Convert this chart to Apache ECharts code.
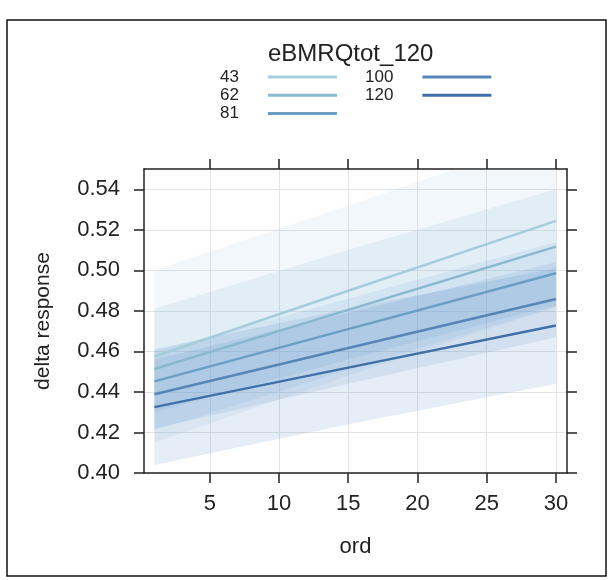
<!DOCTYPE html>
<html>
<head>
<meta charset="utf-8">
<script src="https://cdn.jsdelivr.net/npm/echarts@6/dist/echarts.min.js"></script>
<style>
	html, body { margin: 0; padding: 0; background: #fff; }
	#chart { width: 614px; height: 580px; }
</style>
</head>
<body>
<div id="chart"></div>
<script>
// values at ord = 1, 15, 30
var ordX = [1, 15, 30];
var levels = ['43', '62', '81', '100', '120'];

var fit43 = [0.4575, 0.4899, 0.5244];
var fit62 = [0.4513, 0.4805, 0.5117];
var fit81 = [0.4452, 0.4710, 0.4986];
var fit100 = [0.4389, 0.4617, 0.4859];
var fit120 = [0.4325, 0.4520, 0.4728];

var lo43 = [0.415, 0.448, 0.482];
var hi43 = [0.500, 0.532, 0.567];
var lo62 = [0.421, 0.451, 0.482];
var hi62 = [0.481, 0.510, 0.540];
var lo81 = [0.430, 0.456, 0.483];
var hi81 = [0.460, 0.486, 0.514];
var lo100 = [0.422, 0.444, 0.467];
var hi100 = [0.456, 0.479, 0.504];
var lo120 = [0.404, 0.424, 0.444];
var hi120 = [0.461, 0.481, 0.501];

var xTicks = [5, 10, 15, 20, 25, 30];
var yTicks = [0.40, 0.42, 0.44, 0.46, 0.48, 0.50, 0.52, 0.54];

var colors = ['#a6cddb', '#88b9cf', '#6a9fc4', '#5686b8', '#4070a9'];
var bandColors = ['#9cc8e0', '#88b8dc', '#6fa3d2', '#5a8fc8', '#4a7cbc'];
var fits = [fit43, fit62, fit81, fit100, fit120];
var los = [lo43, lo62, lo81, lo100, lo120];
var his = [hi43, hi62, hi81, hi100, hi120];

var font = 'Liberation Sans, Arial, sans-serif';

function hexAlpha(hex, a) {
	var r = parseInt(hex.substr(1, 2), 16);
	var g = parseInt(hex.substr(3, 2), 16);
	var b = parseInt(hex.substr(5, 2), 16);
	return 'rgba(' + r + ',' + g + ',' + b + ',' + a + ')';
}

// confidence band as one polygon, clipped to the grid
function bandSeries(lo, hi, color) {
	return {
		type : 'custom',
		clip : true,
		silent : true,
		z : 1,
		data : ordX.map(function(x, i) { return [x, lo[i], hi[i]]; }),
		encode : { x : 0, y : [1, 2] },
		renderItem : function(params, api) {
			if (params.dataIndex !== 0) {
				return null;
			}
			var pts = [];
			for (var i = 0; i < ordX.length; i++) {
				pts.push(api.coord([ordX[i], lo[i]]));
			}
			for (var j = ordX.length - 1; j >= 0; j--) {
				pts.push(api.coord([ordX[j], hi[j]]));
			}
			return {
				type : 'polygon',
				shape : { points : pts },
				style : { fill : hexAlpha(color, 0.14) }
			};
		}
	};
}

var series = [];
for (var k = 0; k < levels.length; k++) {
	series.push(bandSeries(los[k], his[k], bandColors[k]));
}
for (var k = 0; k < levels.length; k++) {
	series.push({
		type : 'line',
		name : levels[k],
		z : 3,
		silent : true,
		showSymbol : false,
		data : ordX.map(function(x, i) { return [x, fits[k][i]]; }),
		lineStyle : { width : 2.5, color : colors[k] },
		itemStyle : { color : colors[k] }
	});
}

var axisLine = { show : true, lineStyle : { color : '#222', width : 1.5 } };
var gridLine = { show : true, lineStyle : { color : '#e4e4e4', width : 1 } };
var legendText = {
	color : '#222',
	fontFamily : font,
	fontSize : 17,
	lineHeight : 12,
	padding : [8, 24, 0, 0]
};

var charts = echarts.init(document.getElementById('chart'));
var option = {
	animation : false,
	backgroundColor : '#fff',
	title : {
		text : 'eBMRQtot_120',
		left : 268,
		top : 42,
		padding : 0,
		textStyle : { color : '#222', fontFamily : font, fontSize : 24, fontWeight : 'normal' }
	},
	legend : [ {
		data : ['43', '62', '81'],
		orient : 'vertical',
		left : 220,
		top : 67,
		padding : 0,
		align : 'right',
		icon : 'rect',
		itemWidth : 69,
		itemHeight : 3,
		itemGap : -1.7,
		selectedMode : false,
		textStyle : legendText
	}, {
		data : ['100', '120'],
		orient : 'vertical',
		left : 365,
		top : 67,
		padding : 0,
		align : 'right',
		icon : 'rect',
		itemWidth : 69,
		itemHeight : 3,
		itemGap : -1.7,
		selectedMode : false,
		textStyle : legendText
	} ],
	grid : {
		left : 144,
		right : 47,
		top : 169,
		bottom : 107,
		outerBoundsMode : 'none'
	},
	xAxis : [ {
		type : 'value',
		position : 'bottom',
		min : 0.25,
		max : 30.8,
		name : 'ord',
		nameLocation : 'middle',
		nameGap : 63,
		nameTextStyle : { color : '#222', fontFamily : font, fontSize : 22 },
		axisLine : axisLine,
		axisTick : { show : true, length : 10, customValues : xTicks, lineStyle : { color : '#222', width : 1.5 } },
		axisLabel : { customValues : xTicks, margin : 20, color : '#222', fontFamily : font, fontSize : 22 },
		splitLine : gridLine
	}, {
		type : 'value',
		position : 'top',
		min : 0.25,
		max : 30.8,
		axisLine : axisLine,
		axisTick : { show : true, length : 10, customValues : xTicks, lineStyle : { color : '#222', width : 1.5 } },
		axisLabel : { show : false },
		splitLine : { show : false }
	} ],
	yAxis : [ {
		type : 'value',
		position : 'left',
		min : 0.40,
		max : 0.55,
		interval : 0.02,
		name : 'delta response',
		nameLocation : 'middle',
		nameGap : 90,
		nameTextStyle : { color : '#222', fontFamily : font, fontSize : 21 },
		axisLine : axisLine,
		axisTick : { show : true, length : 10, customValues : yTicks, lineStyle : { color : '#222', width : 1.5 } },
		axisLabel : {
			customValues : yTicks,
			margin : 24,
			color : '#222',
			fontFamily : font,
			fontSize : 22,
			formatter : function(v) { return v.toFixed(2); }
		},
		splitLine : gridLine
	}, {
		type : 'value',
		position : 'right',
		min : 0.40,
		max : 0.55,
		interval : 0.02,
		axisLine : axisLine,
		axisTick : { show : true, length : 10, customValues : yTicks, lineStyle : { color : '#222', width : 1.5 } },
		axisLabel : { show : false },
		splitLine : { show : false }
	} ],
	graphic : [ {
		type : 'rect',
		silent : true,
		shape : { x : 7, y : 20, width : 599, height : 556 },
		style : { fill : 'none', stroke : '#111', lineWidth : 1.5 }
	} ],
	series : series
};
charts.setOption(option);
</script>
</body>
</html>
